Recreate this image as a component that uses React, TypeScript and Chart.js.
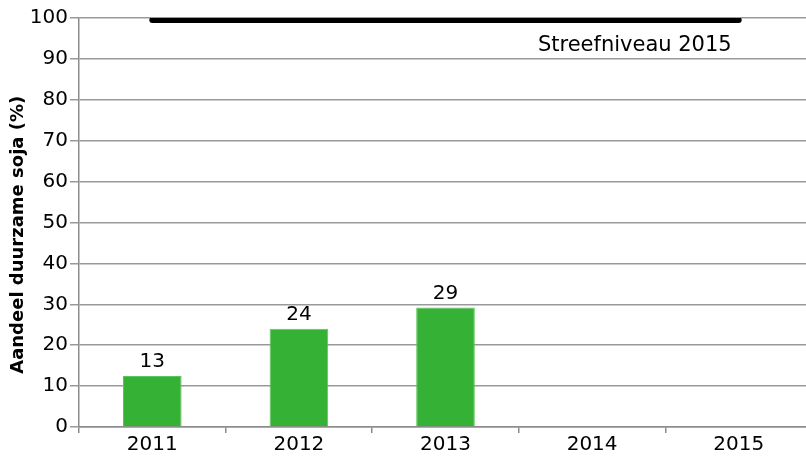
import React, { useEffect, useRef } from "react";
import { Chart, registerables } from "chart.js";

Chart.register(...registerables);

const categories = ["2011", "2012", "2013", "2014", "2015"];
const shareValues = [12.5, 24, 29.2, null, null];
const shareLabels = ["13", "24", "29", "", ""];
const targetValues = [99.5, 99.5, 99.5, 99.5, 99.5];
const targetLabel = "Streefniveau 2015";
const targetLabelValue = 93.2;
const yTicks = [0, 10, 20, 30, 40, 50, 60, 70, 80, 90, 100];
const yTitle = "Aandeel duurzame soja (%)";
const yTitleCenterValue = 47;

const FONT = "'DejaVu Sans', Verdana, sans-serif";

const labelsPlugin = {
  id: "labelsPlugin",
  afterDatasetsDraw(chart: any) {
    const ctx = chart.ctx;
    const meta = chart.getDatasetMeta(0);
    ctx.save();
    ctx.font = `20px ${FONT}`;
    ctx.fillStyle = "#000";
    ctx.textAlign = "center";
    ctx.textBaseline = "alphabetic";
    meta.data.forEach((bar: any, i: number) => {
      const v = shareValues[i];
      if (v == null) return;
      ctx.fillText(shareLabels[i], bar.x, bar.y - 9);
    });
    const xs = chart.scales.x;
    const ys = chart.scales.y;
    ctx.font = `21px ${FONT}`;
    ctx.textAlign = "right";
    ctx.textBaseline = "middle";
    ctx.fillText(targetLabel, xs.getPixelForValue(4) - 7, ys.getPixelForValue(targetLabelValue));

    // y axis title
    ctx.font = `bold 18px ${FONT}`;
    ctx.textAlign = "center";
    ctx.textBaseline = "middle";
    ctx.translate(ys.left + 18, ys.getPixelForValue(yTitleCenterValue));
    ctx.rotate(-Math.PI / 2);
    ctx.fillText(yTitle, 0, 0);
    ctx.restore();
  },
};

export default function App() {
  const ref = useRef<HTMLCanvasElement | null>(null);
  useEffect(() => {
    if (!ref.current) return;
    const chart = new Chart(ref.current, {
      type: "bar",
      data: {
        labels: categories,
        datasets: [
          {
            type: "bar",
            data: shareValues as any,
            backgroundColor: "#35b235",
            borderColor: "#5cc45c",
            borderWidth: 1,
            barPercentage: 0.8,
            categoryPercentage: 0.5,
            order: 2,
          },
          {
            type: "line",
            data: targetValues,
            borderColor: "#000",
            borderWidth: 6,
            borderCapStyle: "round",
            pointRadius: 0,
            fill: false,
            order: 1,
          } as any,
        ],
      },
      options: {
        animation: false,
        responsive: true,
        maintainAspectRatio: false,
        layout: { padding: { top: 18, left: 0, right: 0, bottom: 0 } },
        plugins: { legend: { display: false }, tooltip: { enabled: false } },
        scales: {
          x: {
            offset: true,
            grid: {
              offset: true,
              drawOnChartArea: false,
              drawTicks: true,
              tickLength: 6,
              color: "#8c8c8c",
              lineWidth: 1.5,
            },
            border: { display: true, color: "#8c8c8c", width: 1.5 },
            ticks: { color: "#000", font: { family: FONT, size: 20 }, padding: 0 },
            afterFit: (s: any) => {
              s.height = 35;
            },
          },
          y: {
            min: 0,
            max: 100,
            afterBuildTicks: (s: any) => {
              s.ticks = yTicks.map((v) => ({ value: v }));
            },
            grid: { color: "#999", lineWidth: 1.5, tickLength: 9 },
            border: { display: true, color: "#8c8c8c", width: 1.5 },
            ticks: { color: "#000", font: { family: FONT, size: 20 }, padding: 2 },
            title: { display: false, text: yTitle },
            afterFit: (s: any) => {
              s.width = 79;
            },
          },
        },
      },
      plugins: [labelsPlugin],
    });
    return () => chart.destroy();
  }, []);
  return (
    <div style={{ position: "fixed", left: 0, top: 0, width: 806, height: 462, overflow: "hidden", background: "#fff" }}>
      <div style={{ position: "relative", width: 812, height: 462 }}>
        <canvas ref={ref} />
      </div>
    </div>
  );
}
